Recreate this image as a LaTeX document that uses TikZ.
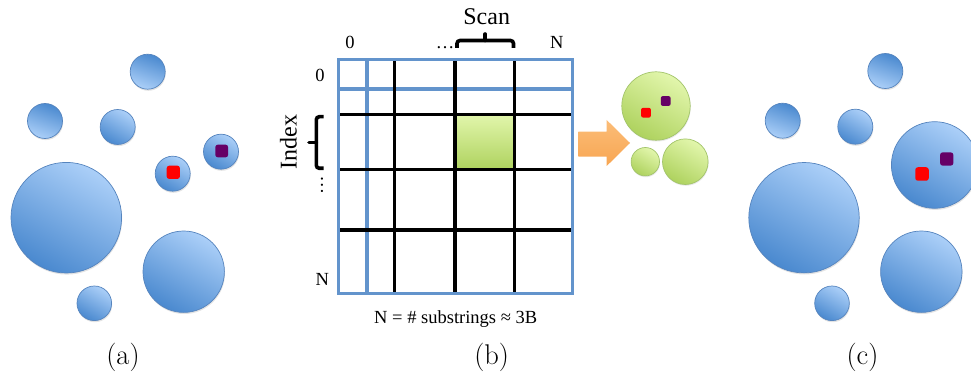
\documentclass[tikz,border=0pt]{standalone}
\usepackage{fontspec}
\newfontfamily\tnr{Liberation Serif}
\usetikzlibrary{shadows}
\definecolor{bluelight}{HTML}{ABCFF8}
\definecolor{bluedark}{HTML}{4A89CF}
\definecolor{blueline}{HTML}{5584BE}
\definecolor{gridblue}{HTML}{6394CC}
\definecolor{greenlight}{HTML}{E2F6AC}
\definecolor{greendark}{HTML}{AED25E}
\definecolor{greenline}{HTML}{A2C46A}
\definecolor{orlight}{HTML}{FBBD78}
\definecolor{ordark}{HTML}{F8A652}
\definecolor{dotred}{HTML}{FF0000}
\definecolor{dotpurple}{HTML}{660066}
\begin{document}
\begin{tikzpicture}[x=1pt,y=-1pt,
  bub/.style={circle, draw=blueline, line width=0.7pt, inner sep=0pt, minimum size=#1,
    top color=bluelight, bottom color=bluedark, shading angle=-30,
    drop shadow={opacity=0.22, shadow xshift=0.6pt, shadow yshift=-1.6pt}},
  bubinv/.style={bub=#1, top color=bluedark, bottom color=bluelight, shading angle=-20},
  gbub/.style={circle, draw=greenline, line width=0.7pt, inner sep=0pt, minimum size=#1,
    top color=greenlight, bottom color=greendark, shading angle=-30,
    drop shadow={opacity=0.18, shadow xshift=0.5pt, shadow yshift=-1.3pt}},
  sq/.style={rounded corners=2.6pt, inner sep=0pt, minimum size=#1, draw=none},
  lbl/.style={font=\tnr\fontsize{18.5}{20}\selectfont, inner sep=0pt, anchor=base},
  big/.style={font=\tnr\fontsize{24}{26}\selectfont, inner sep=0pt, anchor=base},
  sublabel/.style={font=\fontsize{28.5}{30}\selectfont, inner sep=0pt, anchor=base},
  gline/.style={draw=gridblue, line width=3.1pt},
  bline/.style={draw=black, line width=3.3pt},
  brace/.style={draw=black, line width=3.6pt, rounded corners=3pt}
]
\useasboundingbox (0,0) rectangle (971,374);

% ---------- panel (a)
\node[bubinv=35pt] (a1) at (147.7,71.7) {};
\node[bubinv=35pt] (a2) at (45,121) {};
\node[bub=35pt]    (a3) at (117.7,127) {};
\node[bub=35pt]    (a4) at (172.7,173.7) {};
\node[bub=35pt]    (a5) at (221,151.7) {};
\node[bub=110.6pt] (a6) at (66.3,217.7) {};
\node[bub=81.4pt]  (a7) at (183.7,271.7) {};
\node[bub=34.6pt]  (a8) at (94.3,303.3) {};
\node[sq=13.3pt, fill=dotred]    (ar) at (173.3,172.3) {};
\node[sq=12.8pt, fill=dotpurple] (ap) at (221.7,151) {};
\node[sublabel] (la) at (123,364) {(a)};

% ---------- panel (b)
\path[top color=greenlight, bottom color=greendark] (455,114) rectangle (514.3,169.7);
\draw[gline] (367,59.3) -- (367,293.3);
\draw[gline] (338.3,89) -- (572.7,89);
\foreach \x in {394.3,455,514.3} \draw[bline] (\x,59.3) -- (\x,293.3);
\foreach \y in {114.3,169.7,230} \draw[bline] (338.3,\y) -- (572.7,\y);
\draw[gline] (338.3,59.3) rectangle (572.7,293.3);

\node[lbl] (t0) at (350,48.3) {0};
\node[lbl] (tdots) at (445,48.3) {…};
\node[lbl] (tN) at (556.7,48.3) {N};
\node[lbl] (l0) at (320,81.7) {0};
\node[lbl] (lN) at (322.3,285) {N};
\node[lbl, rotate=90, anchor=center] (ldots) at (322,185) {…};
\node[big] (scan) at (486.7,25) {Scan};
\node[big, rotate=90] (index) at (296.5,141.7) {Index};
\node[lbl] (form) at (455.7,323.3) {N = \# substrings ≈ 3B};
\node[sublabel] (lb) at (491.7,364) {(b)};

% braces
\draw[brace] (457,48) -- (457,40.5) -- (513.5,40.5) -- (513.5,48);
\draw[black, line width=3.6pt, line cap=round] (485.2,40.5) -- (485.2,34);
\draw[brace] (323.5,116.7) -- (316.3,116.7) -- (316.3,168.3) -- (323.5,168.3);
\draw[black, line width=3.6pt, line cap=round] (316.3,142.5) -- (309,142.5);

% orange arrow
\path[top color=orlight, bottom color=ordark]
  (578.3,131.7) -- (606.7,131.7) -- (606.7,120) -- (630,143) -- (606.7,166) -- (606.7,156.7) -- (578.3,156.7) -- cycle;

% green clusters
\node[gbub=68.4pt] (g1) at (656,106) {};
\node[gbub=28.4pt] (g2) at (645.3,161.7) {};
\node[gbub=45.6pt] (g3) at (685.3,161.7) {};
\node[sq=9.8pt, fill=dotred, rounded corners=2pt]    (gr) at (646,112.7) {};
\node[sq=9.8pt, fill=dotpurple, rounded corners=2pt] (gp) at (665.7,101) {};

% ---------- panel (c)
\node[bubinv=35pt] (c1) at (885.3,71) {};
\node[bubinv=35pt] (c2) at (782.7,120.7) {};
\node[bub=35pt]    (c3) at (855.3,126.7) {};
\node[bub=110.4pt] (c4) at (804,217.7) {};
\node[bub=86.6pt]  (c5) at (934.7,165) {};
\node[bub=81.4pt]  (c6) at (921.3,271.7) {};
\node[bub=34.6pt]  (c7) at (832,303.3) {};
\node[sq=13.5pt, fill=dotred]    (cr) at (922,174) {};
\node[sq=13.3pt, fill=dotpurple] (cp) at (946.7,159) {};
\node[sublabel] (lc) at (862.5,364) {(c)};
\end{tikzpicture}
\end{document}
